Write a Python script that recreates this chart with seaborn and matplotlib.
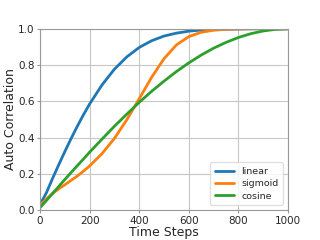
import matplotlib
matplotlib.use("Agg")
import matplotlib.pyplot as plt
import seaborn as sns
import pandas as pd

steps = [0, 25, 50, 75, 100, 125, 150, 175, 200, 250, 300, 350, 400, 450, 500,
         550, 600, 650, 700, 750, 800, 850, 900, 950, 1000]
linear = [0.03, 0.093, 0.172, 0.248, 0.322, 0.393, 0.461, 0.525, 0.585, 0.690,
          0.777, 0.845, 0.897, 0.934, 0.960, 0.976, 0.987, 0.993, 0.996, 0.998,
          0.999, 1.0, 1.0, 1.0, 1.0]
sigmoid = [0.025, 0.06, 0.091, 0.116, 0.139, 0.163, 0.187, 0.214, 0.243, 0.311,
           0.395, 0.498, 0.614, 0.732, 0.835, 0.911, 0.957, 0.981, 0.992, 0.997,
           0.999, 1.0, 1.0, 1.0, 1.0]
cosine = [0.0125, 0.051, 0.090, 0.129, 0.168, 0.206, 0.244, 0.281, 0.319, 0.391,
          0.462, 0.529, 0.594, 0.655, 0.711, 0.764, 0.812, 0.855, 0.893, 0.925,
          0.952, 0.973, 0.988, 0.997, 1.0]
series_names = ["linear", "sigmoid", "cosine"]
colors = ["#1f77b4", "#ff7f0e", "#2ca02c"]

rows = []
for name, vals in zip(series_names, [linear, sigmoid, cosine]):
    for t, v in zip(steps, vals):
        rows.append({"Time Steps": t, "Auto Correlation": v, "schedule": name})
df = pd.DataFrame(rows)

sns.set_style("whitegrid", {
    "axes.edgecolor": "0.6",
    "grid.color": "0.78",
    "xtick.bottom": True,
    "ytick.left": True,
    "axes.linewidth": 1.6,
})
plt.rcParams["font.family"] = ["DejaVu Sans"]

fig, ax = plt.subplots(figsize=(3.2, 2.4), dpi=100)
fig.subplots_adjust(left=0.125, right=0.9, bottom=0.125, top=0.88)

sns.lineplot(data=df, x="Time Steps", y="Auto Correlation", hue="schedule",
             hue_order=series_names, palette=colors, linewidth=2, ax=ax)

ax.set_xlim(0, 1000)
ax.set_ylim(0, 1.0)
ax.set_xticks([0, 200, 400, 600, 800, 1000])
ax.set_yticks([0.0, 0.2, 0.4, 0.6, 0.8, 1.0])
ax.tick_params(axis="both", labelsize=7.5, length=2.5, width=0.8, color="0.6", pad=1.5)
ax.set_xlabel("Time Steps", fontsize=9, labelpad=0)
ax.set_ylabel("Auto Correlation", fontsize=9, labelpad=1)
ax.grid(True, color="0.78", linewidth=0.8)
leg = ax.legend(loc="lower right", fontsize=6.8, frameon=True, handlelength=2.0,
                borderpad=0.5, labelspacing=0.35)
leg.get_frame().set_edgecolor("0.85")

fig.savefig("out.png", dpi=100)
